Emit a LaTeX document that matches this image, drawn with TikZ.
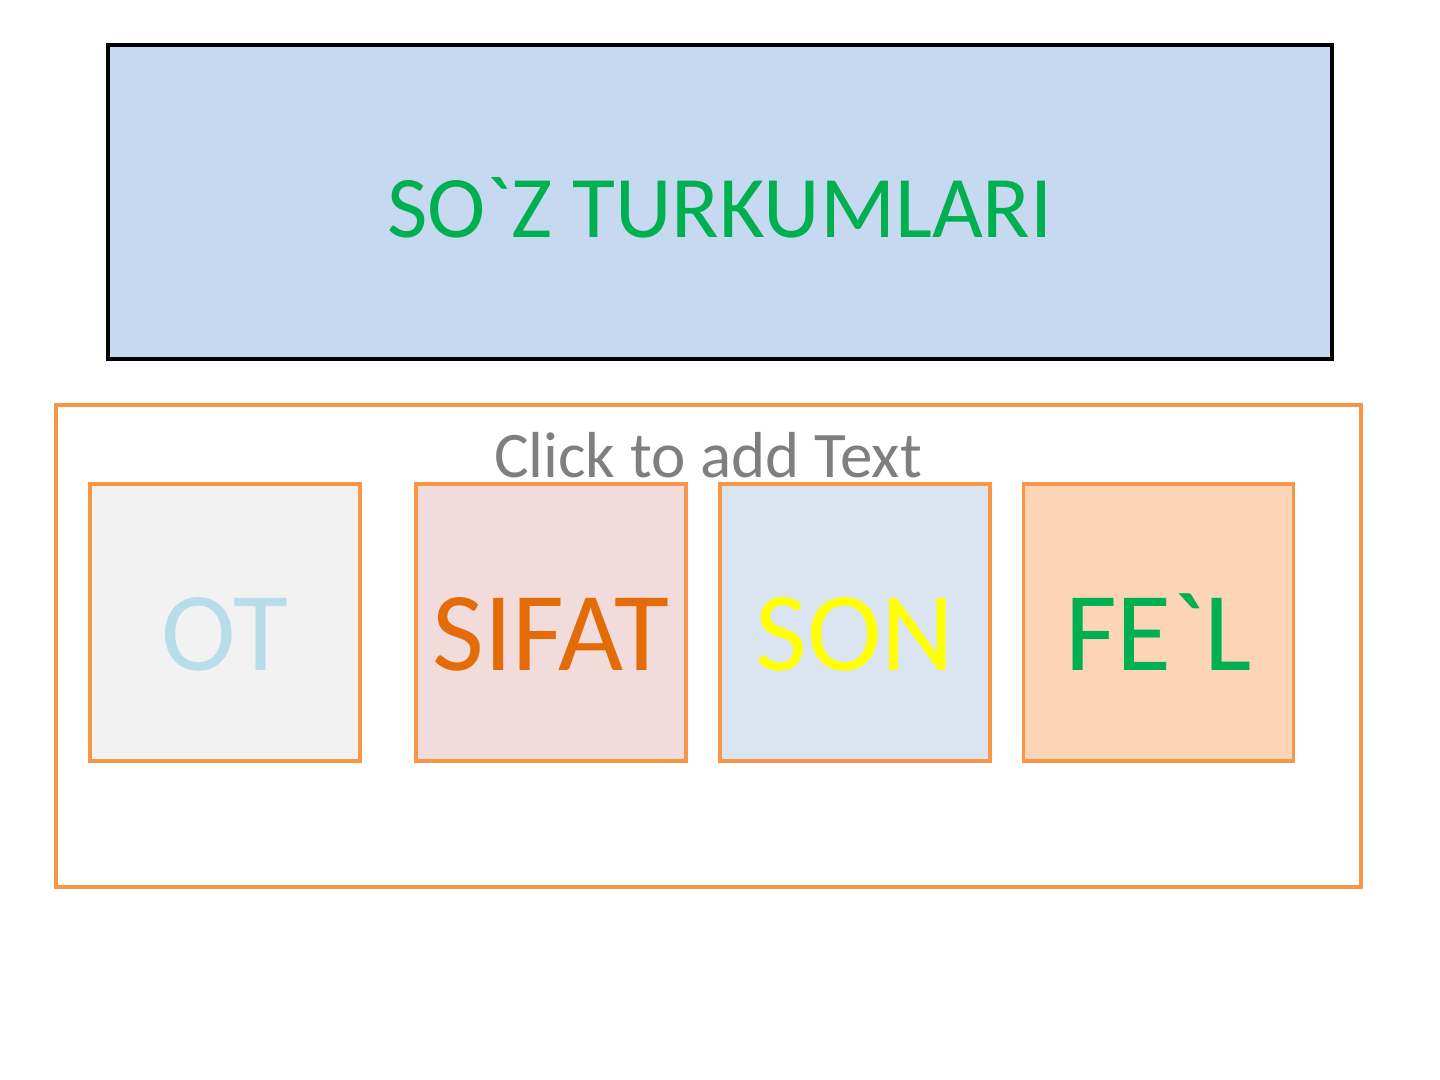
\documentclass[tikz,border=0pt]{standalone}
\usepackage{fontspec}
\setmainfont{Carlito}[Ligatures=TeXOff]
\usepackage{xcolor}

\definecolor{titlebg}{RGB}{198,217,241}
\definecolor{wordgreen}{RGB}{0,176,80}
\definecolor{frame}{RGB}{247,150,70}
\definecolor{clickgray}{RGB}{127,127,127}
\definecolor{otbg}{RGB}{242,242,242}
\definecolor{otfg}{RGB}{183,222,232}
\definecolor{sifatbg}{RGB}{242,220,219}
\definecolor{sifatfg}{RGB}{227,108,9}
\definecolor{sonbg}{RGB}{219,229,241}
\definecolor{sonfg}{RGB}{255,255,0}
\definecolor{felbg}{RGB}{251,213,181}

\begin{document}
\begin{tikzpicture}
    \useasboundingbox (0,0) rectangle (14.4,-10.8);
    % Title
    \node[draw=black, line width=1.2pt, fill=titlebg, minimum width=12.24cm, minimum height=3.14cm,
        text=wordgreen, text height=0.72cm, text depth=0cm,
        font=\fontsize{25pt}{30pt}\selectfont] (title) at (7.2,-2.02) {SO`Z TURKUMLARI};

    % Word groups
    \node[draw=frame, line width=1.1pt, minimum width=13.05cm, minimum height=4.82cm] (groups) at (7.085,-6.46) {};
    \node[anchor=base, text=clickgray, font=\fontsize{18.5pt}{22pt}\selectfont] (click) at (7.08,-4.78) {Click to add Text};
    \foreach \x/\bg/\fg/\word [count=\i] in {2.25/otbg/otfg/OT, 5.51/sifatbg/sifatfg/SIFAT,
        8.55/sonbg/sonfg/SON, 11.585/felbg/wordgreen/FE`L} {
        \node[draw=frame, line width=1.1pt, fill=\bg, minimum width=2.7cm, minimum height=2.77cm,
            inner sep=0pt, text=\fg, text height=0.95cm, text depth=0cm,
            font=\fontsize{32pt}{38pt}\selectfont] (box\i) at (\x,-6.225) {\word};
    }
\end{tikzpicture}
\end{document}
